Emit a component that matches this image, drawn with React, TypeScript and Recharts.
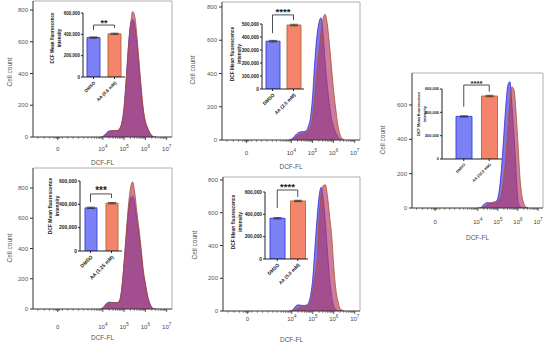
import {
  AreaChart,
  Area,
  XAxis,
  YAxis,
  ReferenceLine,
  BarChart,
  Bar,
  Cell,
  ErrorBar,
} from "recharts";

const FONT = '"Liberation Sans", Arial, sans-serif';

// histogram x positions (decade units on the biexponential DCF-FL axis)
const T_GRID = [3.9, 4.0, 4.1, 4.2, 4.3, 4.4, 4.5, 4.6, 4.7, 4.8, 4.9, 5.0, 5.1, 5.2, 5.3, 5.4, 5.5, 5.6, 5.7, 5.8, 5.9, 6.0, 6.1, 6.2, 6.3, 6.4, 6.5];
const T_GRID_P3 = [4.0, 4.1, 4.2, 4.3, 4.4, 4.5, 4.6, 4.7, 4.8, 4.9, 5.0, 5.1, 5.2, 5.3, 5.4, 5.5, 5.6, 5.7, 5.8, 5.9, 6.0, 6.1, 6.2, 6.3, 6.4, 6.5];

// cell counts, DMSO (blue) and AA (red)
const P1_DMSO = [0, 3, 15, 30, 38, 40, 40, 40, 42, 55, 95, 190, 370, 570, 710, 740, 700, 590, 440, 290, 165, 90, 55, 25, 8, 0, 0];
const P1_AA = [0, 0, 10, 25, 35, 38, 40, 40, 40, 50, 90, 180, 350, 550, 700, 790, 760, 640, 480, 320, 180, 100, 60, 30, 10, 0, 0];
const P2_DMSO = [0, 5, 15, 30, 42, 48, 50, 50, 55, 80, 130, 250, 450, 610, 700, 735, 640, 470, 330, 220, 130, 80, 45, 20, 5, 0, 0];
const P2_AA = [0, 0, 10, 20, 28, 34, 38, 40, 44, 55, 75, 130, 250, 400, 520, 640, 730, 755, 700, 580, 440, 300, 190, 90, 35, 10, 0];
const P3_DMSO = [0, 0, 9, 20, 29, 32, 29, 27, 28, 37, 58, 130, 260, 430, 600, 715, 735, 600, 430, 230, 45, 10, 2, 0, 0, 0];
const P3_AA = [0, 0, 0, 5, 13, 22, 29, 33, 35, 37, 41, 55, 92, 180, 290, 460, 610, 705, 690, 570, 380, 180, 70, 25, 5, 0];
const P4_DMSO = [0, 8, 25, 40, 45, 44, 42, 42, 43, 60, 145, 300, 480, 640, 730, 745, 700, 590, 490, 370, 240, 160, 85, 38, 10, 0, 0];
const P4_AA = [0, 5, 18, 32, 40, 42, 42, 42, 43, 60, 150, 310, 500, 680, 800, 840, 770, 640, 530, 400, 260, 170, 90, 40, 12, 0, 0];
const P5_DMSO = [0, 3, 15, 32, 37, 36, 34, 34, 36, 50, 100, 200, 380, 560, 700, 755, 680, 540, 360, 200, 90, 30, 8, 0, 0, 0, 0];
const P5_AA = [0, 0, 5, 12, 20, 24, 26, 26, 28, 35, 60, 120, 210, 300, 560, 720, 765, 770, 700, 580, 460, 270, 130, 60, 15, 5, 0];

const T_MIN = 0.72;
const T_MAX = 7.25;
const X_MAJOR = [1.88, 4, 5, 6, 7];
const X_MAJOR_LABELS = ["0", "4", "5", "6", "7"];
const X_LINEAR_MINOR = [0.95, 1.25, 1.5, 1.7, 1.8, 1.84, 1.92, 1.96, 2.1, 2.35, 2.6, 2.85, 3.1];
const X_MINOR = [
  ...X_LINEAR_MINOR,
  ...[3, 4, 5, 6].flatMap((n) => [2, 3, 4, 5, 6, 7, 8, 9].map((k) => n + Math.log10(k))),
].filter((v) => v > 3.2 || v < 3.15);
const X_ALL = [...X_MAJOR, ...X_MINOR].sort((a, b) => a - b);

const COUNT_TICKS_800 = [0, 200, 400, 600, 800];
const COUNT_TICKS_600 = [0, 200, 400, 600];

// inset bar charts: DCF mean fluorescence intensity
const AA_LABELS = ["AA (0.5 mM)", "AA (2.5 mM)", "AA (10.0 mM)", "AA (1.25 mM)", "AA (5.0 mM)"];
const MFI_DMSO = [370000, 368000, 365000, 370000, 365000];
const MFI_AA = [405000, 492000, 540000, 410000, 520000];
const MFI_ERR = [6000, 6000, 6000, 6000, 6000];
const MFI_MAX = [600000, 500000, 600000, 600000, 600000];
const MFI_TICKS_6 = [0, 200000, 400000, 600000];
const MFI_TICKS_5 = [0, 100000, 200000, 300000, 400000, 500000];
const STARS = ["**", "****", "****", "***", "****"];
const BRACKET_Y = [487000, 570000, 634000, 489000, 618000];
const LEG_DMSO = [440000, 430000, 448000, 420000, 457000];
const LEG_AA = [460000, 530000, 577000, 454000, 555000];

const BAR_FILL = ["#7c82f6", "#f4846c"];
const BAR_STROKE = ["#2f3fd6", "#b0662e"];

const PANELS = [
  { t: T_GRID, dmso: P1_DMSO, aa: P1_AA, px0: 33, px1: 172, pyTop: 1, py0: 137, ymax: 857, yticks: COUNT_TICKS_800, cellX: 10, cellY: 72, tickDy: 14, titleDy: 26 },
  { t: T_GRID, dmso: P2_DMSO, aa: P2_AA, px0: 222, px1: 360, pyTop: 2, py0: 140, ymax: 830, yticks: COUNT_TICKS_800, cellX: 193, cellY: 70, tickDy: 15, titleDy: 27 },
  { t: T_GRID_P3, dmso: P3_DMSO, aa: P3_AA, px0: 412, px1: 543, pyTop: 73, py0: 208, ymax: 786, yticks: COUNT_TICKS_600, cellX: 383, cellY: 140, tickDy: 16, titleDy: 30 },
  { t: T_GRID, dmso: P4_DMSO, aa: P4_AA, px0: 33, px1: 172, pyTop: 168, py0: 309, ymax: 932, yticks: COUNT_TICKS_800, cellX: 10, cellY: 248, tickDy: 20, titleDy: 29 },
  { t: T_GRID, dmso: P5_DMSO, aa: P5_AA, px0: 223, px1: 360, pyTop: 177, py0: 311, ymax: 818, yticks: COUNT_TICKS_800, cellX: 195, cellY: 245, tickDy: 10, titleDy: 29 },
];

const INSETS = [
  { ax: 83, yTop: 13, y0: 77, xr: 125, barSize: 13, padL: 0, titleX: [52, 59], titleY: 38, fs: 4.5, ticks: MFI_TICKS_6 },
  { ax: 262, yTop: 24, y0: 89, xr: 304, barSize: 14, padL: 0, titleX: [232, 239], titleY: 54, fs: 4.8, ticks: MFI_TICKS_5 },
  { ax: 442, yTop: 89, y0: 159, xr: 502, barSize: 16, padL: 9, titleX: [419, 425], titleY: 114, fs: 3.9, ticks: MFI_TICKS_6 },
  { ax: 80, yTop: 181, y0: 251, xr: 122, barSize: 12, padL: 0, titleX: [50, 57], titleY: 206, fs: 5, ticks: MFI_TICKS_6 },
  { ax: 265, yTop: 192, y0: 259, xr: 308, barSize: 15, padL: 2, titleX: [233, 240], titleY: 222, fs: 4.8, ticks: MFI_TICKS_6 },
];

function FlowTick(props: any) {
  const { x, y, payload, dy } = props;
  const idx = X_MAJOR.indexOf(payload.value);
  if (idx < 0) {
    return <line x1={x} x2={x} y1={y} y2={y + 1.8} stroke="#333" strokeWidth={0.6} />;
  }
  const lab = X_MAJOR_LABELS[idx];
  return (
    <g>
      <line x1={x} x2={x} y1={y} y2={y + 3} stroke="#333" strokeWidth={0.8} />
      <text x={x} y={y + dy} textAnchor="middle" fontSize={6} fill="#444" fontFamily={FONT}>
        {lab === "0" ? (
          "0"
        ) : (
          <>
            10
            <tspan dy={-3} fontSize={4.5}>
              {lab}
            </tspan>
          </>
        )}
      </text>
    </g>
  );
}

function FlowPanel({ cfg }: { cfg: any }) {
  const YW = 33;
  const MT = 4;
  const MR = 4;
  const XH = 36;
  const W = cfg.px1 - cfg.px0;
  const H = cfg.py0 - cfg.pyTop;
  const left = cfg.px0 - YW;
  const top = cfg.pyTop - MT;
  const data = cfg.t.map((t: number, k: number) => ({ t, dmso: cfg.dmso[k], aa: cfg.aa[k] }));

  return (
    <div style={{ position: "absolute", left, top }}>
      <AreaChart width={YW + W + MR} height={MT + H + XH} data={data} margin={{ top: MT, right: MR, left: 0, bottom: 0 }}>
        <XAxis
          dataKey="t"
          type="number"
          domain={[T_MIN, T_MAX]}
          allowDataOverflow
          ticks={X_ALL}
          interval={0}
          tickSize={0}
          tickMargin={0}
          tickLine={false}
          height={XH}
          stroke="#333"
          tick={(p: any) => <FlowTick {...p} dy={cfg.tickDy} />}
          label={{
            content: () => (
              <text x={YW + W / 2} y={MT + H + cfg.titleDy + 2.3} textAnchor="middle" fontSize={6.5} fill="#555" fontFamily={FONT}>
                DCF-FL
              </text>
            ),
          }}
        />
        <YAxis
          type="number"
          domain={[0, cfg.ymax]}
          allowDataOverflow
          ticks={cfg.yticks}
          interval={0}
          tickSize={3}
          width={YW}
          stroke="#333"
          tick={{ fontSize: 6, fill: "#555", fontFamily: FONT }}
          label={{
            content: () => (
              <text
                transform={`translate(${cfg.cellX - left + 2.3},${cfg.cellY - top}) rotate(-90)`}
                textAnchor="middle"
                fontSize={6.5}
                fill="#555"
                fontFamily={FONT}
              >
                Cell count
              </text>
            ),
          }}
        />
        <ReferenceLine y={cfg.ymax} stroke="#999" strokeWidth={0.8} ifOverflow="visible" />
        <ReferenceLine x={T_MAX} stroke="#999" strokeWidth={0.8} ifOverflow="visible" />
        <Area
          dataKey="dmso"
          type="monotone"
          stroke="#3a24e0"
          strokeWidth={0.8}
          fill="#3424d4"
          fillOpacity={0.62}
          dot={false}
          activeDot={false}
          isAnimationActive={false}
        />
        <Area
          dataKey="aa"
          type="monotone"
          stroke="#a8522c"
          strokeWidth={0.8}
          fill="#b43a62"
          fillOpacity={0.66}
          dot={false}
          activeDot={false}
          isAnimationActive={false}
        />
      </AreaChart>
    </div>
  );
}

function CatTick(props: any) {
  const { x, y, payload, fs } = props;
  return (
    <text
      x={x}
      y={y}
      dy={fs * 0.7}
      transform={`rotate(-45, ${x}, ${y})`}
      textAnchor="end"
      fontSize={fs}
      fontWeight={700}
      fill="#222"
      fontFamily={FONT}
    >
      {payload.value}
    </text>
  );
}

function Inset({ idx, cfg }: { idx: number; cfg: any }) {
  const YW = 50;
  const MT = 18;
  const MR = 2;
  const XH = 34;
  const W = cfg.xr - cfg.ax;
  const H = cfg.y0 - cfg.yTop;
  const left = cfg.ax - YW;
  const top = cfg.yTop - MT;
  const fs = cfg.fs;
  const cats = ["DMSO", AA_LABELS[idx]];
  const data = [
    { cat: cats[0], v: MFI_DMSO[idx], err: MFI_ERR[idx] },
    { cat: cats[1], v: MFI_AA[idx], err: MFI_ERR[idx] },
  ];
  const tx = cfg.titleX[0] - left + fs * 0.36;
  const ty = cfg.titleY - top;
  const lineGap = cfg.titleX[1] - cfg.titleX[0];

  return (
    <div style={{ position: "absolute", left, top }}>
      <BarChart width={YW + W + MR} height={MT + H + XH} data={data} margin={{ top: MT, right: MR, left: 0, bottom: 0 }}>
        <XAxis
          dataKey="cat"
          interval={0}
          height={XH}
          tickSize={2}
          stroke="#222"
          padding={{ left: cfg.padL, right: 0 }}
          tick={(p: any) => <CatTick {...p} fs={fs} />}
        />
        <YAxis
          type="number"
          domain={[0, MFI_MAX[idx]]}
          allowDataOverflow
          ticks={cfg.ticks}
          interval={0}
          width={YW}
          tickSize={2}
          tickMargin={1}
          stroke="#222"
          tickFormatter={(v: number) => v.toLocaleString("en-US")}
          tick={{ fontSize: fs, fontWeight: 700, fill: "#222", fontFamily: FONT }}
          label={{
            content: () => (
              <text
                transform={`translate(${tx},${ty}) rotate(-90)`}
                textAnchor="middle"
                fontSize={fs}
                fontWeight={700}
                fill="#222"
                fontFamily={FONT}
              >
                <tspan x={0} dy={0}>
                  DCF Mean fluorescence
                </tspan>
                <tspan x={0} dy={lineGap}>
                  intensity
                </tspan>
              </text>
            ),
          }}
        />
        <Bar dataKey="v" barSize={cfg.barSize} strokeWidth={0.9} isAnimationActive={false}>
          {data.map((d, k) => (
            <Cell key={d.cat} fill={BAR_FILL[k]} stroke={BAR_STROKE[k]} />
          ))}
          <ErrorBar dataKey="err" width={4} stroke="#222" strokeWidth={0.7} />
        </Bar>
        <ReferenceLine
          segment={[
            { x: cats[0], y: LEG_DMSO[idx] },
            { x: cats[0], y: BRACKET_Y[idx] },
          ]}
          stroke="#222"
          strokeWidth={0.8}
          ifOverflow="visible"
        />
        <ReferenceLine
          segment={[
            { x: cats[0], y: BRACKET_Y[idx] },
            { x: cats[1], y: BRACKET_Y[idx] },
          ]}
          stroke="#222"
          strokeWidth={0.8}
          ifOverflow="visible"
          label={{
            value: STARS[idx],
            position: "top",
            offset: -0.5,
            fontSize: fs * 2,
            fontWeight: 700,
            fill: "#222",
            fontFamily: FONT,
          }}
        />
        <ReferenceLine
          segment={[
            { x: cats[1], y: BRACKET_Y[idx] },
            { x: cats[1], y: LEG_AA[idx] },
          ]}
          stroke="#222"
          strokeWidth={0.8}
          ifOverflow="visible"
        />
      </BarChart>
    </div>
  );
}

export default function App() {
  return (
    <div
      style={{
        position: "absolute",
        left: 0,
        top: 0,
        width: 550,
        height: 346,
        background: "#fff",
        overflow: "hidden",
        fontFamily: FONT,
      }}
    >
      {PANELS.map((p, i) => (
        <FlowPanel key={i} cfg={p} />
      ))}
      {INSETS.map((c, i) => (
        <Inset key={i} idx={i} cfg={c} />
      ))}
    </div>
  );
}
